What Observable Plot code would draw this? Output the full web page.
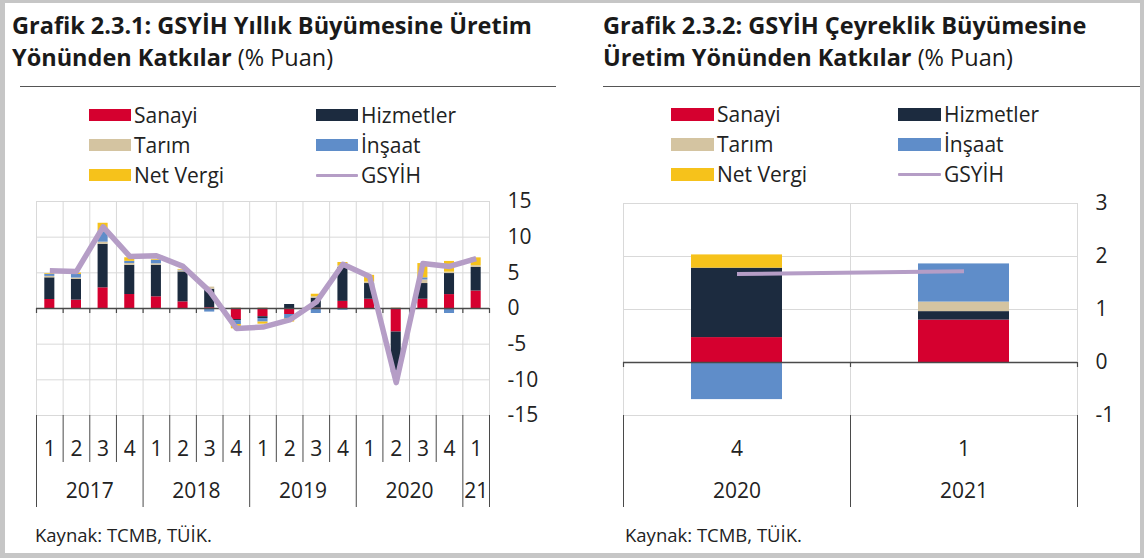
<!DOCTYPE html>
<html><head><meta charset="utf-8">
<script src="https://cdn.jsdelivr.net/npm/d3@7"></script>
<script src="https://cdn.jsdelivr.net/npm/@observablehq/plot@0.6"></script>
<style>
body{margin:0;background:#fff;font-family:"Open Sans",sans-serif;color:#1a1a1a}
#wrap{position:relative;width:1144px;height:558px;overflow:hidden;background:#fff}
.frame{position:absolute;left:0;top:0;width:1144px;height:558px;box-sizing:border-box;border:solid #c6c6c6;border-width:3px 4px 5px 5px;pointer-events:none}
.title{position:absolute;font-size:23.5px;line-height:32px;font-weight:700;white-space:nowrap;color:#1a1a1a}
.title span{font-weight:400}
.hr{position:absolute;height:0;border-top:1px solid #555}
.leg{position:absolute;font-size:21px;line-height:24px;white-space:nowrap;color:#222}
.sw{position:absolute}
.cap{position:absolute;font-size:18.5px;line-height:22px;color:#222;white-space:nowrap}
.chart{position:absolute}
</style></head><body>
<div id="wrap">
  <div class="title" style="left:12px;top:9px">Grafik 2.3.1: GSYİH Yıllık Büyümesine Üretim<br>Yönünden Katkılar <span>(% Puan)</span></div>
  <div class="title" style="left:603px;top:9px">Grafik 2.3.2: GSYİH Çeyreklik Büyümesine<br>Üretim Yönünden Katkılar <span>(% Puan)</span></div>
  <div class="hr" style="left:20px;top:86px;width:536px"></div>
  <div class="hr" style="left:603px;top:86px;width:537px"></div>
  <div id="legL"></div>
  <div id="legR"></div>
  <div class="chart" id="chartL" style="left:0px;top:190px"></div>
  <div class="chart" id="chartR" style="left:570px;top:190px"></div>
  <div class="cap" style="left:35px;top:524px">Kaynak: TCMB, TÜİK.</div>
  <div class="cap" style="left:625px;top:524px">Kaynak: TCMB, TÜİK.</div>
  <div class="frame"></div>
</div>
<script>
// ---------- data: annual growth contributions (left) ----------
const quartersL = ["1","2","3","4","1","2","3","4","1","2","3","4","1","2","3","4","1"];
const yearsL = ["2017","2017","2017","2017","2018","2018","2018","2018","2019","2019","2019","2019","2020","2020","2020","2020","21"];
const sanayiL    = [1.26, 1.17, 2.9, 1.96, 1.64, 0.93, 0.1, -1.55, -1.15, -0.84, 0.05, 1.0, 1.3, -3.3, 1.3, 1.95, 2.45];
const hizmetlerL = [3.04, 2.9, 6.1, 4.1, 4.43, 4.2, 2.6, -0.15, -0.25, 0.56, 1.4, 4.75, 2.2, -5.4, 2.2, 2.95, 3.3];
const tarimL     = [0.2, 0.2, 0.3, 0.25, 0.2, 0.15, 0.3, 0.1, 0.1, 0.0, 0.2, 0.2, 0.2, 0.1, 0.5, 0.2, 0.25];
const insaatL    = [0.3, 0.5, 1.5, 0.3, 0.5, 0.1, -0.5, -0.55, -0.5, -0.56, -0.7, -0.25, 0.0, -0.3, 0.3, -0.7, 0.0];
const vergiL     = [0.1, 0.2, 1.15, 0.5, 0.1, 0.1, 0.0, -0.6, -0.3, -0.5, 0.35, 0.5, 0.95, 0.0, 2.0, 1.5, 1.1];
const gsyihL     = [5.3, 5.2, 11.45, 7.3, 7.4, 5.9, 2.4, -2.8, -2.6, -1.6, 0.9, 6.2, 4.5, -10.4, 6.3, 5.9, 7.0];
const yTicksL = [-15, -10, -5, 0, 5, 10, 15];

// ---------- data: quarterly growth contributions (right) ----------
const quartersR = ["4", "1"];
const yearsR = ["2020", "2021"];
const sanayiR    = [0.47, 0.8];
const hizmetlerR = [1.31, 0.16];
const tarimR     = [0.0, 0.18];
const insaatR    = [-0.7, 0.72];
const vergiR     = [0.25, 0.0];
const gsyihR     = [1.67, 1.72];
const yTicksR = [-1, 0, 1, 2, 3];

// ---------- series ----------
const seriesNames = ["Sanayi", "Hizmetler", "Tarım", "İnşaat", "Net Vergi"];
const seriesColors = ["#d5002f", "#1c2b3f", "#d4c4a1", "#5f8dc9", "#f6c21b"];
const gdpName = "GSYİH";
const gdpColor = "#b59dc6";
const legendOrder = [["Sanayi", "Hizmetler"], ["Tarım", "İnşaat"], ["Net Vergi", "GSYİH"]];

function tidy(arrs) {
  const rows = [];
  const n = arrs[0].length;
  for (let i = 0; i < n; i++) arrs.forEach((a, k) => rows.push({i, series: seriesNames[k], value: a[i]}));
  return rows;
}
function yearGroups(years) {
  const g = [];
  years.forEach((y, i) => {
    if (g.length && g[g.length - 1].label === y) g[g.length - 1].end = i + 1;
    else g.push({label: y, start: i, end: i + 1});
  });
  return g;
}

function legend(el, x1, x2, top, swW, swH) {
  let html = "";
  legendOrder.forEach((row, r) => {
    row.forEach((name, c) => {
      const x = c === 0 ? x1 : x2;
      const cy = top + r * 30;
      if (name === gdpName) {
        html += `<div class="sw" style="left:${x}px;top:${cy - 1.5}px;width:${swW}px;height:3px;background:${gdpColor};border-radius:1px"></div>`;
      } else {
        const col = seriesColors[seriesNames.indexOf(name)];
        html += `<div class="sw" style="left:${x}px;top:${cy - swH / 2}px;width:${swW}px;height:${swH}px;background:${col}"></div>`;
      }
      html += `<div class="leg" style="left:${x + swW + 3}px;top:${cy - 12.5}px">${name}</div>`;
    });
  });
  document.getElementById(el).innerHTML = html;
}
legend("legL", 89, 316, 115, 42, 12);
legend("legR", 671, 898, 114, 43, 13);

function chart({quarters, years, arrs, gdp, yTicks, width, height, mt, mb, ml, mr, barInset, lineW}) {
  const n = quarters.length;
  const rows = tidy(arrs);
  const bounds = d3.range(n + 1);
  const groups = yearGroups(years);
  const yearBounds = [...new Set(groups.flatMap(g => [g.start, g.end]))];
  const quarterBounds = bounds.filter(b => !yearBounds.includes(b));
  const plotH = height - mt - mb;
  const qLab = quarters.map((q, i) => ({i, q}));
  const gRows = gdp.map((v, i) => ({i, value: v}));
  const stacked = Plot.stackY({x: "i", y: "value", fill: "series"});
  return Plot.plot({
    width, height,
    marginTop: mt, marginBottom: mb, marginLeft: ml, marginRight: mr,
    style: {fontFamily: "Open Sans, sans-serif", fontSize: "21px", color: "#222", background: "transparent", overflow: "visible"},
    x: {domain: [0, n], axis: null},
    y: {domain: [yTicks[0], yTicks[yTicks.length - 1]], axis: "right", ticks: yTicks, tickSize: 0, tickPadding: 18, tickFormat: d => String(d), label: null},
    color: {domain: seriesNames, range: seriesColors},
    marks: [
      Plot.ruleY(yTicks, {stroke: "#d9d9d9", strokeWidth: 1}),
      Plot.ruleX(bounds, {stroke: "#d9d9d9", strokeWidth: 1}),
      Plot.rect(rows, {...stacked, x1: d => d.i, x2: d => d.i + 1, insetLeft: barInset, insetRight: barInset}),
      Plot.ruleY([0], {stroke: "#4a4a4a", strokeWidth: 1.3}),
      Plot.ruleX(bounds, {y1: 0, y2: 0, insetBottom: -5, stroke: "#4a4a4a", strokeWidth: 1.2}),
      Plot.line(gRows, {x: d => d.i + 0.5, y: "value", stroke: gdpColor, strokeWidth: lineW, strokeLinejoin: "round", strokeLinecap: "butt"}),
      Plot.ruleX(quarterBounds, {insetTop: plotH, insetBottom: -47, stroke: "#4a4a4a", strokeWidth: 1}),
      Plot.ruleX(yearBounds, {insetTop: plotH, insetBottom: -92, stroke: "#4a4a4a", strokeWidth: 1}),
      Plot.text(qLab, {x: d => d.i + 0.5, text: "q", frameAnchor: "bottom", dy: 40, fontSize: 21, fill: "#222"}),
      Plot.text(groups, {x: d => (d.start + d.end) / 2, text: "label", frameAnchor: "bottom", dy: 82, fontSize: 21, fill: "#222"})
    ]
  });
}

document.getElementById("chartL").appendChild(chart({
  quarters: quartersL, years: yearsL,
  arrs: [sanayiL, hizmetlerL, tarimL, insaatL, vergiL], gdp: gsyihL, yTicks: yTicksL,
  width: 570, height: 330, mt: 11, mb: 105, ml: 36, mr: 81, barInset: 8.3, lineW: 5.5
}));
document.getElementById("chartR").appendChild(chart({
  quarters: quartersR, years: yearsR,
  arrs: [sanayiR, hizmetlerR, tarimR, insaatR, vergiR], gdp: gsyihR, yTicks: yTicksR,
  width: 574, height: 330, mt: 13, mb: 105, ml: 53, mr: 67, barInset: 68, lineW: 4
}));
</script>
</body></html>
